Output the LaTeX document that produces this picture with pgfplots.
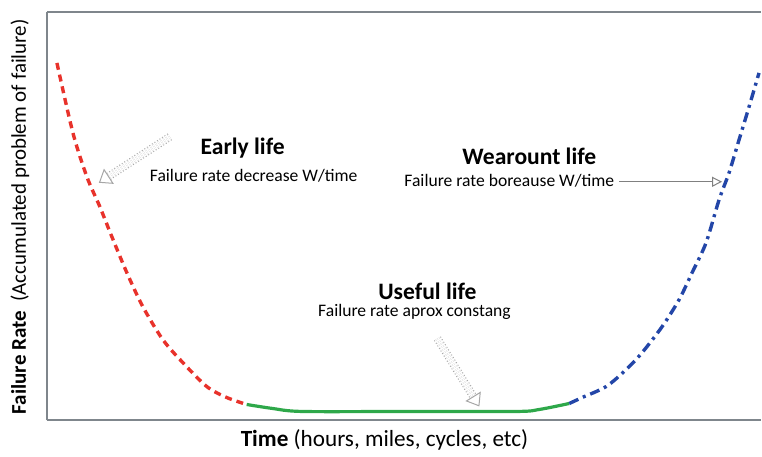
\documentclass[border=0pt]{standalone}
\usepackage{fontspec}
\setmainfont{Carlito}
\usepackage{pgfplots}
\pgfplotsset{compat=1.18}
\usetikzlibrary{arrows.meta}
\definecolor{redc}{HTML}{E8322B}
\definecolor{greenc}{HTML}{2EA84A}
\definecolor{bluec}{HTML}{2346A8}
\definecolor{axc}{HTML}{7F868C}
\begin{document}
\begin{tikzpicture}
\begin{axis}[
  scale only axis, width=357.5pt, height=204.5pt,
  xmin=47, xmax=762, ymin=31, ymax=440,
  separate axis lines,
  axis x line*=box, axis y line*=left,
  axis line style={axc, line width=1pt},
  xtick=\empty, ytick=\empty,
  clip=false,
]
\path (axis cs:0,0) rectangle (axis cs:762,452);
\addplot[redc, line width=1.7pt, smooth, dash pattern=on 3.5pt off 2.5pt] coordinates {
(57,389)(73,319)(87,275)(100,245)(112,215)(127,179)(143,145)(163,112)(183,89)(207,65)(227,54)(247,47)};
\addplot[greenc, line width=1.6pt, smooth] coordinates {
(247,47)(273,43)(303,40)(407,40)(517,40)(540,42)(570,48)};
\addplot[bluec, line width=1.7pt, smooth, dash pattern=on 5pt off 2.5pt on 1.5pt off 2.5pt] coordinates {
(570,48)(583,54)(607,65)(627,82)(643,99)(663,125)(680,152)(693,179)(707,209)(720,252)(730,279)(740,312)(750,345)(760,379)};
% arrows
\draw[gray!70, densely dotted, double=white, double distance=3pt, line width=0.5pt, -{Triangle[open, length=6pt, width=9pt]}]
  (axis cs:170,315) -- (axis cs:99,269);
\draw[gray!70, densely dotted, double=white, double distance=3pt, line width=0.5pt, -{Triangle[open, length=6pt, width=9pt]}]
  (axis cs:438,113) -- (axis cs:480,45);
\draw[gray, line width=0.5pt, -{Triangle[open, length=5pt, width=5pt]}]
  (axis cs:620,270) -- (axis cs:723,270);
% texts
\node[font=\fontsize{11.8}{14}\selectfont\bfseries] at (axis cs:243,304) {Early life};
\node[font=\fontsize{8.8}{10}\selectfont] at (axis cs:254,276) {Failure rate decrease W/time};
\node[font=\fontsize{11.8}{14}\selectfont\bfseries] at (axis cs:530,295) {Wearount life};
\node[font=\fontsize{8.8}{10}\selectfont] at (axis cs:510,271) {Failure rate boreause W/time};
\node[font=\fontsize{11.8}{14}\selectfont\bfseries] at (axis cs:428,160) {Useful life};
\node[font=\fontsize{8.8}{10}\selectfont] at (axis cs:415,140) {Failure rate aprox constang};
\node[font=\fontsize{11.6}{13}\selectfont] at (axis cs:385,12) {\textbf{Time} (hours, miles, cycles, etc)};
\node[font=\fontsize{10.5}{12}\selectfont, rotate=90] at (axis cs:20,235) {\textbf{Failure Rate}~~(Accumulated problem of failure)};
\end{axis}
\end{tikzpicture}
\end{document}
